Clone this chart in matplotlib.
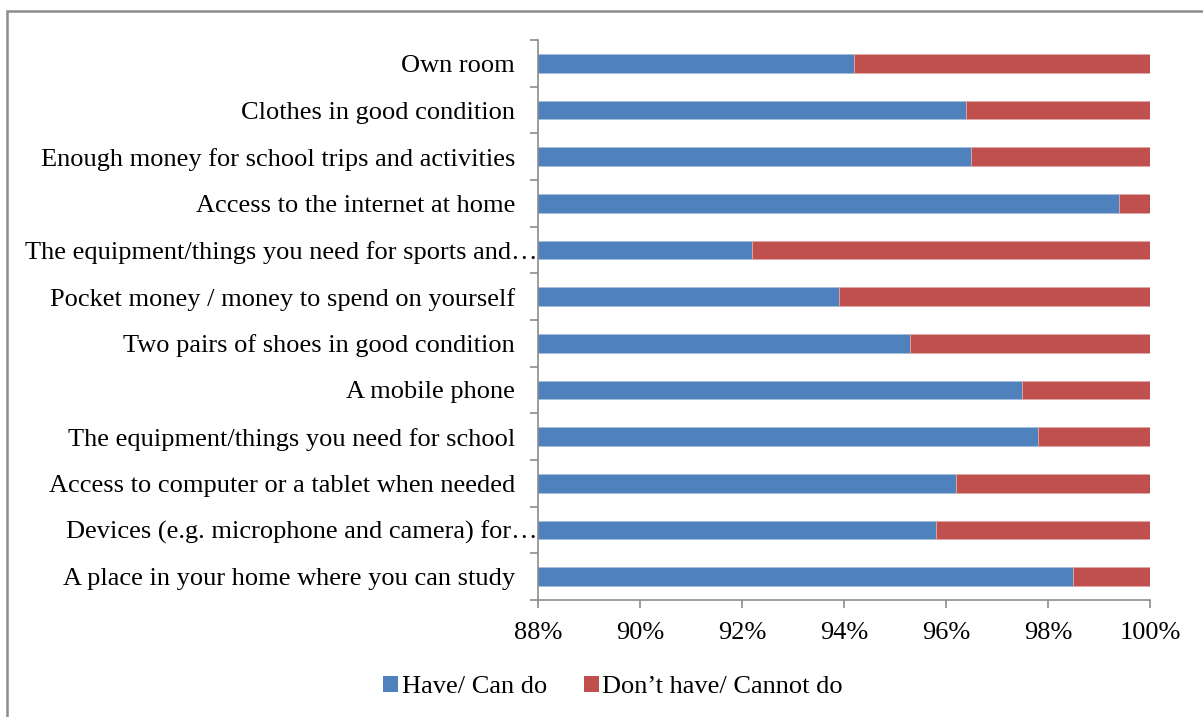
import matplotlib
matplotlib.use("Agg")
import matplotlib.pyplot as plt
import matplotlib.transforms as mtransforms
from matplotlib.patches import Rectangle, Patch
from matplotlib.ticker import FuncFormatter, MultipleLocator

plt.rcParams['font.family'] = ['Liberation Serif', 'DejaVu Serif']

# Items, listed bottom to top
categories = [
    "A place in your home where you can study",
    "Devices (e.g. microphone and camera) for\u2026",
    "Access to computer or a tablet when needed",
    "The equipment/things you need for school",
    "A mobile phone",
    "Two pairs of shoes in good condition",
    "Pocket money / money to spend on yourself",
    "The equipment/things you need for sports and\u2026",
    "Access to the internet at home",
    "Enough money for school trips and activities",
    "Clothes in good condition",
    "Own room",
]
have = [98.5, 95.8, 96.2, 97.8, 97.5, 95.3, 93.9, 92.2, 99.4, 96.5, 96.4, 94.2]
dont_have = [100 - v for v in have]

series_names = ["Have/ Can do", "Don\u2019t have/ Cannot do"]
colors = ["#4F81BD", "#C0504D"]

fig = plt.figure(figsize=(12.03, 7.17), dpi=100)
ax = fig.add_axes([0.4472, 0.1632, 0.5087, 0.7810])

y = list(range(len(categories)))
ax.barh(y, have, height=0.4, color=colors[0], edgecolor="#A7C0DE", linewidth=0.6, zorder=2)
ax.barh(y, dont_have, left=have, height=0.4, color=colors[1], edgecolor="#E0A8A6", linewidth=0.6, zorder=2)

ax.set_xlim(88, 100)
ax.set_ylim(-0.5, len(categories) - 0.5)
ax.xaxis.set_major_locator(MultipleLocator(2))
ax.xaxis.set_major_formatter(FuncFormatter(lambda v, p: f"{v:.0f}%"))

ax.set_yticks(y)
ax.set_yticklabels(categories)
ax.set_yticks([i - 0.5 for i in range(len(categories) + 1)], minor=True)
ax.tick_params(axis='y', which='major', length=0, pad=16.5, labelsize=19)
ax.tick_params(axis='y', which='minor', length=6, width=1.2, color="#8C8C8C")
ax.tick_params(axis='x', which='major', length=6, width=1.2, color="#8C8C8C", labelsize=19, pad=10)

# Truncated labels run up to the axis line
shift = mtransforms.ScaledTranslation(16 / 72, 0, fig.dpi_scale_trans)
for lbl in ax.get_yticklabels():
    if lbl.get_text().endswith("\u2026"):
        lbl.set_transform(lbl.get_transform() + shift)

for s in ("top", "right"):
    ax.spines[s].set_visible(False)
for s in ("left", "bottom"):
    ax.spines[s].set_color("#8C8C8C")
    ax.spines[s].set_linewidth(1.2)

handles = [Patch(facecolor=c, edgecolor='none') for c in colors]
fig.legend(handles, series_names, loc="center", bbox_to_anchor=(613 / 1203, 1 - 687 / 717),
           ncol=2, frameon=False, fontsize=19, handlelength=0.58, handleheight=0.58,
           handletextpad=0.12, columnspacing=1.4)

# Outer chart border
fig.patches.append(Rectangle((7 / 1203, -0.05), 1.2, 1 - 11 / 717 + 0.05,
                             transform=fig.transFigure, fill=False,
                             edgecolor="#8C8C8C", linewidth=1.8))

fig.savefig("out.png", dpi=100)
